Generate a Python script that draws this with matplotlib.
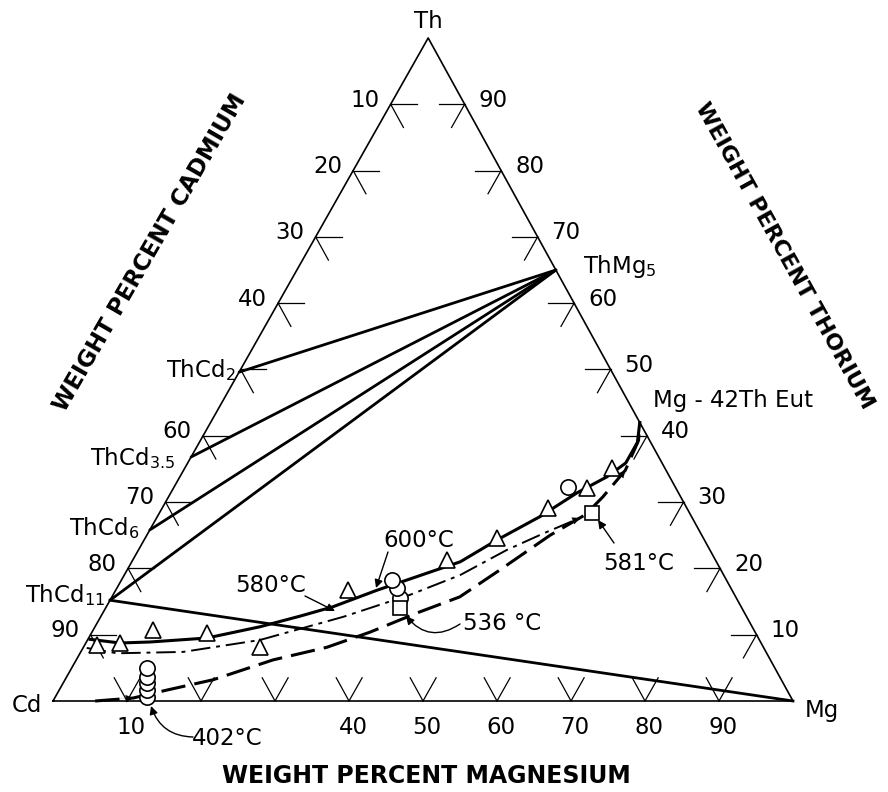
import numpy as np
import matplotlib
matplotlib.use('Agg')
import matplotlib.pyplot as plt

# drawing positions of the corners (Cd at origin)
MG_CORNER = (1.0, 0.0)
TH_CORNER = (0.507, 0.896)

# compounds on the Th-Cd side, given as wt% Th
cd_compounds = ['ThCd$_2$', 'ThCd$_{3.5}$', 'ThCd$_6$', 'ThCd$_{11}$']
cd_compound_th = [49.6, 36.8, 25.8, 15.2]
thmg5_mg, thmg5_th = 35.0, 65.0
eut_mg, eut_th = 58.0, 42.0

# univariant curves, wt% Mg / wt% Th
solid_mg = [0.3, 4.6, 8.6, 16.0, 22.3, 26.9, 30.6, 35.3, 40.8, 44.4, 47.7, 51.7, 54.9, 57.7, 59.2, 59.2, 58.0]
solid_th = [9.3, 8.75, 8.9, 9.5, 11.2, 12.8, 14.2, 16.7, 19.3, 21.0, 24.3, 27.8, 31.4, 33.8, 35.9, 39.0, 42.0]
dashdot_mg = [0.5, 5.0, 13.8, 23.3, 32.8, 40.1, 45.4, 49.8, 53.5, 57.2]
dashdot_th = [8.0, 7.2, 7.4, 9.2, 12.7, 16.0, 19.0, 22.8, 25.3, 27.6]
dashed_mg = [5.7, 10.6, 14.6, 20.0, 26.6, 32.9, 37.6, 42.5, 47.0, 50.4, 54.5, 57.7, 58.7, 59.7, 59.2, 58.0]
dashed_th = [0.0, 0.45, 1.66, 3.2, 6.2, 8.1, 10.4, 13.3, 15.7, 19.8, 25.0, 28.1, 30.8, 34.8, 39.3, 42.0]

# experimental points
tri_mg = [1.7, 4.6, 8.1, 15.6, 23.9, 31.4, 42.5, 47.5, 52.1, 55.9, 57.7]
tri_th = [8.4, 8.75, 10.7, 10.3, 8.1, 16.7, 21.3, 24.6, 29.1, 32.1, 35.1]
circ_mg = [12.4, 11.8, 11.3, 10.9, 10.2, 39.0, 37.8, 36.6, 53.2]
circ_th = [0.6, 1.7, 2.7, 3.6, 5.0, 15.5, 17.0, 18.3, 32.3]
sq_mg = [39.8, 58.5]
sq_th = [14.0, 28.4]

ticks = [10, 20, 30, 40, 50, 60, 70, 80, 90]
left_labels = [10, 20, 30, 40, 60, 70, 80, 90]
right_labels = [10, 20, 30, 40, 50, 60, 70, 80, 90]
bottom_labels = [10, 40, 50, 60, 70, 80, 90]


def tern(mg, th):
    mg = np.asarray(mg, dtype=float) / 100
    th = np.asarray(th, dtype=float) / 100
    return mg * MG_CORNER[0] + th * TH_CORNER[0], th * TH_CORNER[1]


def at(X, Y):
    # label placement from picture pixels
    return (X - 53) / 740, (701 - Y) / 740


fig = plt.figure(figsize=(8.88, 7.92), dpi=100)
ax = fig.add_axes([0, 0, 1, 1])
ax.set_xlim(-53 / 740, 835 / 740)
ax.set_ylim(-91 / 740, 701 / 740)
ax.axis('off')

FS = 16.5
k = 'black'

# frame
ax.plot(*tern([0, 100, 0, 0], [0, 0, 100, 0]), color=k, lw=1.2)

# tick marks
d = 3.5
for v in ticks:
    # Cd side (Cd = v)
    ax.plot(*tern([0, d], [100 - v, 100 - v]), color=k, lw=0.9)
    ax.plot(*tern([0, d], [100 - v, 100 - v - d]), color=k, lw=0.9)
    # Th-Mg side (Th = v)
    ax.plot(*tern([100 - v, 100 - v - d], [v, v]), color=k, lw=0.9)
    ax.plot(*tern([100 - v, 100 - v], [v, v - d]), color=k, lw=0.9)
    # Cd-Mg side (Mg = v)
    ax.plot(*tern([v, v], [0, d]), color=k, lw=0.9)
    ax.plot(*tern([v, v - d], [0, d]), color=k, lw=0.9)

for v in left_labels:
    ax.annotate(str(v), tern(0, 100 - v), xytext=(-8, 3), textcoords='offset points',
                ha='right', va='center', fontsize=FS)
for v in right_labels:
    ax.annotate(str(v), tern(100 - v, v), xytext=(10, 3), textcoords='offset points',
                ha='left', va='center', fontsize=FS)
for v in bottom_labels:
    ax.annotate(str(v), tern(v, 0), xytext=(3, -19), textcoords='offset points',
                ha='center', va='center', fontsize=FS)

# tie lines
for th in cd_compound_th:
    ax.plot(*tern([0, thmg5_mg], [th, thmg5_th]), color=k, lw=2, solid_capstyle='round')
ax.plot(*tern([0, 100], [cd_compound_th[-1], 0]), color=k, lw=2)

# univariant curves
ax.plot(*tern(solid_mg, solid_th), color=k, lw=2.2)
ax.plot(*tern(dashdot_mg, dashdot_th), color=k, lw=1.4, dashes=(10, 3, 2, 3))
ax.plot(*tern(dashed_mg, dashed_th), color=k, lw=2.2, dashes=(8, 3))

# direction arrowheads
for mgs, ths, i in [(dashed_mg, dashed_th, 13), (dashdot_mg, dashdot_th, 9), (dashed_mg, dashed_th, 1)]:
    ax.annotate('', xy=tern(mgs[i], ths[i]), xytext=tern(mgs[i - 1], ths[i - 1]),
                arrowprops=dict(arrowstyle='-|>', color=k, lw=0.1, mutation_scale=13,
                                shrinkA=12, shrinkB=0))

# data points
mk = dict(ls='none', mfc='white', mec=k, mew=1.2, zorder=5)
ax.plot(*tern(tri_mg, tri_th), marker='^', ms=12, **mk)
ax.plot(*tern(circ_mg, circ_th), marker='o', ms=11, **mk)
ax.plot(*tern(sq_mg, sq_th), marker='s', ms=10, **mk)

# corner labels
ax.text(*at(428, 21), 'Th', ha='center', va='center', fontsize=FS)
ax.text(*at(27, 705), 'Cd', ha='center', va='center', fontsize=FS)
ax.text(*at(822, 710), 'Mg', ha='center', va='center', fontsize=FS)

# compound labels
ax.text(*at(583, 273), 'ThMg$_5$', ha='left', va='baseline', fontsize=FS)
ax.text(*at(653, 407), 'Mg - 42Th Eut', ha='left', va='baseline', fontsize=FS)
for name, X, Y in zip(cd_compounds, [236, 175, 139, 105], [377, 465, 535, 602]):
    ax.text(*at(X, Y), name, ha='right', va='baseline', fontsize=FS)

# temperature labels
arrow = dict(arrowstyle='-|>', color=k, lw=1.0, mutation_scale=12, shrinkA=0, shrinkB=0)
ax.text(*at(383, 547), '600°C', ha='left', va='baseline', fontsize=FS)
ax.annotate('', xy=at(376, 588), xytext=at(388, 552), arrowprops=arrow)
ax.text(*at(235, 592), '580°C', ha='left', va='baseline', fontsize=FS)
ax.annotate('', xy=at(335, 611), xytext=at(305, 596), arrowprops=arrow)
ax.text(*at(463, 630), '536 °C', ha='left', va='baseline', fontsize=FS)
ax.annotate('', xy=at(406, 616), xytext=at(460, 624),
            arrowprops=dict(arrow, connectionstyle='arc3,rad=-0.45'))
ax.text(*at(603, 570), '581°C', ha='left', va='baseline', fontsize=FS)
ax.annotate('', xy=at(598, 520), xytext=at(614, 543), arrowprops=arrow)
ax.text(*at(192, 745), '402°C', ha='left', va='baseline', fontsize=FS)
ax.annotate('', xy=at(151, 706), xytext=at(193, 737),
            arrowprops=dict(arrow, connectionstyle='arc3,rad=-0.35'))

# axis titles
ax.text(*at(426, 776), 'WEIGHT PERCENT MAGNESIUM', ha='center', va='center',
        fontsize=17, fontweight='bold')
ax.text(*at(150, 253), 'WEIGHT PERCENT CADMIUM', ha='center', va='center',
        fontsize=16.5, fontweight='bold', rotation=60, rotation_mode='anchor')
ax.text(*at(784, 256), 'WEIGHT PERCENT THORIUM', ha='center', va='center',
        fontsize=16, fontweight='bold', rotation=-61, rotation_mode='anchor')

fig.savefig('out.png', dpi=100, facecolor='white')
